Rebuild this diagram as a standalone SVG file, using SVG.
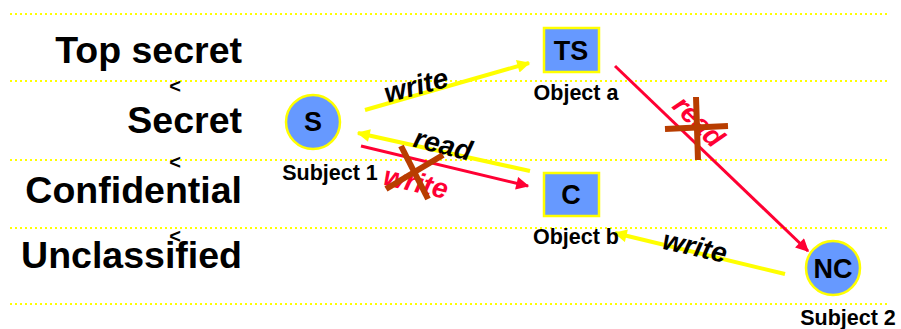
<svg xmlns="http://www.w3.org/2000/svg" width="901" height="329" viewBox="0 0 901 329">
<defs>
<style>
.lvl{font-family:"Liberation Sans",Arial,sans-serif;font-weight:bold;font-size:37.5px;fill:#000;text-anchor:end}
.lt{font-family:"Liberation Sans",Arial,sans-serif;font-weight:bold;font-size:20px;fill:#000;text-anchor:middle}
.cap{font-family:"Liberation Sans",Arial,sans-serif;font-weight:bold;font-size:21.5px;fill:#000;text-anchor:middle}
.nl{font-family:"Liberation Sans",Arial,sans-serif;font-weight:bold;font-size:27px;fill:#000;text-anchor:middle}
.el{font-family:"Liberation Sans",Arial,sans-serif;font-weight:bold;font-style:italic;font-size:28px;text-anchor:middle}
.dot{stroke:#FFFF00;stroke-width:2;stroke-dasharray:2 3;fill:none}
.node{fill:#6699FF;stroke:#FFFF00;stroke-width:2.5}
.yel{stroke:#FFFF00;stroke-width:4;fill:none}
.red{stroke:#FF0033;stroke-width:3;fill:none}
.cross{stroke:#B83D00;stroke-width:6;fill:none}
</style>
<marker id="ay" viewBox="0 0 10 10" refX="9" refY="5" markerWidth="18" markerHeight="13" markerUnits="userSpaceOnUse" orient="auto">
<path d="M0,0 L10,5 L0,10 Z" fill="#FFFF00"/>
</marker>
<marker id="ar" viewBox="0 0 10 10" refX="9" refY="5" markerWidth="18" markerHeight="13" markerUnits="userSpaceOnUse" orient="auto">
<path d="M0,0 L10,5 L0,10 Z" fill="#FF0033"/>
</marker>
</defs>
<rect width="901" height="329" fill="#fff"/>
<g id="levels">
<line class="dot" x1="10" y1="14" x2="888" y2="14"/>
<line class="dot" x1="10" y1="81" x2="888" y2="81"/>
<line class="dot" x1="10" y1="160" x2="888" y2="160"/>
<line class="dot" x1="10" y1="228" x2="888" y2="228"/>
<line class="dot" x1="10" y1="304" x2="888" y2="304"/>
<text class="lvl" x="242" y="63">Top secret</text>
<text class="lvl" x="242" y="133">Secret</text>
<text class="lvl" x="242" y="203">Confidential</text>
<text class="lvl" x="242" y="268">Unclassified</text>
<text class="lt" x="175" y="93">&lt;</text>
<text class="lt" x="175" y="169">&lt;</text>
<text class="lt" x="175" y="243">&lt;</text>
</g>
<g id="connectors">
<line class="yel" x1="365" y1="110" x2="529" y2="63" marker-end="url(#ay)"/>
<line class="yel" x1="530" y1="171" x2="358" y2="133" marker-end="url(#ay)"/>
<line class="red" x1="361" y1="146" x2="528" y2="186" marker-end="url(#ar)"/>
<line class="red" x1="615" y1="66" x2="808" y2="251" marker-end="url(#ar)"/>
<line class="yel" x1="785" y1="274" x2="615" y2="233" marker-end="url(#ay)"/>
<text class="el" fill="#000" transform="translate(416,85) rotate(-15)" y="10">write</text>
<text class="el" fill="#000" transform="translate(443,144) rotate(14)" y="10">read</text>
<text class="el" fill="#FF0033" transform="translate(416,182) rotate(13)" y="10">write</text>
<line class="cross" x1="401" y1="146" x2="428" y2="199"/>
<line class="cross" x1="443" y1="155" x2="386" y2="189"/>
<text class="el" fill="#FF0033" transform="translate(699,121) rotate(45)" y="10">read</text>
<line class="cross" x1="696" y1="97" x2="698" y2="160"/>
<line class="cross" x1="665" y1="129" x2="728" y2="126"/>
<text class="el" fill="#000" transform="translate(695,246) rotate(13)" y="10">write</text>
</g>
<g id="subject1">
<circle class="node" cx="313" cy="122" r="27"/>
<text class="nl" x="313" y="131">S</text>
<text class="cap" x="330" y="180">Subject 1</text>
</g>
<g id="objecta">
<rect class="node" x="544" y="28" width="55" height="44"/>
<text class="nl" x="571" y="60">TS</text>
<text class="cap" x="576" y="100">Object a</text>
</g>
<g id="objectb">
<rect class="node" x="544" y="173" width="55" height="43"/>
<text class="nl" x="571" y="204">C</text>
<text class="cap" x="576" y="244">Object b</text>
</g>
<g id="subject2">
<circle class="node" cx="833" cy="268" r="27"/>
<text class="nl" x="833" y="278">NC</text>
<text class="cap" x="848" y="325">Subject 2</text>
</g>
</svg>
